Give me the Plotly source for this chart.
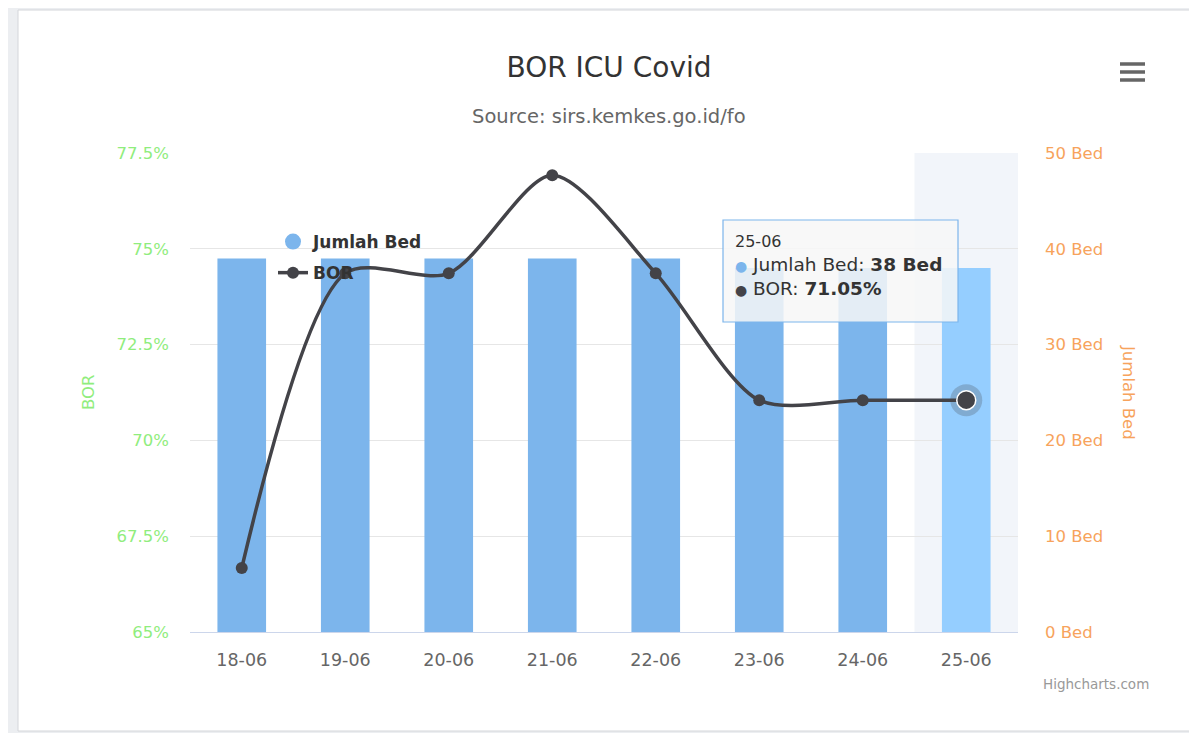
import plotly.graph_objects as go

# ---- data ----
dates = ["18-06", "19-06", "20-06", "21-06", "22-06", "23-06", "24-06", "25-06"]
beds = [39, 39, 39, 39, 39, 38, 38, 38]
bor = [66.67, 74.36, 74.36, 76.92, 74.36, 71.05, 71.05, 71.05]
bor_ticks = [65, 67.5, 70, 72.5, 75, 77.5]
bed_ticks = [0, 10, 20, 30, 40, 50]
hover_idx = 7

FONT = "DejaVu Sans"
BAR_C = "#7cb5ec"
BAR_HOVER = "#95ceff"
LINE_C = "#434348"
GREEN = "#90ed7d"
ORANGE = "#f7a35c"

OFF = 8  # default page body margin
W, H = 1197 - OFF, 733 - OFF
L, T = 190 - OFF, 153 - OFF
PW, PH = 828, 479
R, B = W - L - PW, H - T - PH


def px(xs):
    """screen x (pixels in the final page) -> paper coordinate"""
    return (xs - OFF - L) / PW


def py(ys):
    """screen y (pixels in the final page) -> paper coordinate"""
    return (T + PH - (ys - OFF)) / PH


bar_colors = [BAR_HOVER if i == hover_idx else BAR_C for i in range(len(dates))]

fig = go.Figure()

fig.add_trace(go.Bar(
    x=dates, y=beds, name="Jumlah Bed", marker=dict(color=bar_colors, line=dict(width=0)),
    width=0.47, yaxis="y", showlegend=False,
))
# legend proxy for the bar series (circle symbol like the original)
fig.add_trace(go.Scatter(
    x=[None], y=[None], mode="markers", name="Jumlah Bed", legendgroup="a",
    marker=dict(symbol="circle", size=17, color=BAR_C), yaxis="y2",
))
fig.add_trace(go.Scatter(
    x=dates, y=bor, name="BOR", mode="lines+markers", yaxis="y2", legendgroup="b",
    line=dict(color=LINE_C, width=3.5, shape="spline", smoothing=0.8),
    marker=dict(size=12, color=LINE_C),
))
# hovered point halo + marker
fig.add_trace(go.Scatter(
    x=[dates[hover_idx]], y=[bor[hover_idx]], mode="markers", yaxis="y2", showlegend=False,
    marker=dict(size=32, color="rgba(67,67,72,0.25)"),
))
fig.add_trace(go.Scatter(
    x=[dates[hover_idx]], y=[bor[hover_idx]], mode="markers", yaxis="y2", showlegend=False,
    marker=dict(size=19, color=LINE_C, line=dict(color="white", width=1.5)),
))

shapes = [
    # card
    dict(type="rect", xref="paper", yref="paper", x0=px(18), x1=px(1210), y0=py(731), y1=py(10),
         fillcolor="white", line=dict(color="#d4d6da", width=1), layer="below"),
    # hover band
    dict(type="rect", xref="x", yref="paper", x0=hover_idx - 0.5, x1=hover_idx + 0.5, y0=0, y1=1,
         fillcolor="#f2f5fa", line=dict(width=0), layer="below"),
    # tooltip box
    dict(type="rect", xref="paper", yref="paper", x0=px(723), x1=px(958), y0=py(322), y1=py(220),
         fillcolor="rgba(247,247,247,0.85)", line=dict(color=BAR_C, width=1.2), layer="above"),
]
for yy in (64, 72, 80):
    shapes.append(dict(type="line", xref="paper", yref="paper", x0=px(1120), x1=px(1145),
                       y0=py(yy), y1=py(yy), line=dict(color="#666666", width=3.5)))

tip = (
    f"<span style='font-size:16px'>{dates[hover_idx]}</span><br>"
    f"<span style='color:{BAR_C};font-size:14px'>●</span> Jumlah Bed: <b>{beds[hover_idx]} Bed</b><br>"
    f"<span style='color:{LINE_C};font-size:14px'>●</span> BOR: <b>{bor[hover_idx]:.2f}%</b>"
)

annotations = [
    dict(text="Source: sirs.kemkes.go.id/fo", xref="paper", yref="paper", x=px(609), y=py(117),
         showarrow=False, font=dict(family=FONT, size=19.5, color="#666666"), xanchor="center", yanchor="middle"),
    dict(text="BOR", xref="paper", yref="paper", x=px(88), y=py(393), textangle=-90, showarrow=False,
         font=dict(family=FONT, size=16.5, color=GREEN), xanchor="center", yanchor="middle"),
    dict(text="Jumlah Bed", xref="paper", yref="paper", x=px(1129), y=py(392), textangle=90, showarrow=False,
         font=dict(family=FONT, size=16.5, color=ORANGE), xanchor="center", yanchor="middle"),
    dict(text="Highcharts.com", xref="paper", yref="paper", x=px(1151), y=py(684), showarrow=False,
         font=dict(family=FONT, size=13.5, color="#999999"), xanchor="right", yanchor="middle"),
    dict(text=tip, xref="paper", yref="paper", x=px(734), y=py(231), xanchor="left", yanchor="top",
         showarrow=False, align="left", borderpad=0,
         font=dict(family=FONT, size=18.5, color="#333333")),
]

fig.update_layout(
    width=W, height=H,
    margin=dict(l=L, r=R, t=T, b=B),
    paper_bgcolor="#eceef1", plot_bgcolor="rgba(0,0,0,0)",
    font=dict(family=FONT, color="#333333"),
    title=dict(text="BOR ICU Covid", x=(609 - OFF) / W, xanchor="center", y=1 - (67 - OFF) / H,
               yanchor="middle", font=dict(family=FONT, size=28, color="#333333")),
    hovermode=False,
    showlegend=True,
    legend=dict(x=px(273), y=py(224), xanchor="left", yanchor="top", bgcolor="rgba(0,0,0,0)",
                font=dict(family=FONT, size=17, color="#333333", weight="bold"), traceorder="grouped",
                itemsizing="trace", tracegroupgap=6),
    xaxis=dict(type="category", range=[-0.5, len(dates) - 0.5], showgrid=False, showline=True,
               linecolor="#ccd6eb", linewidth=1, ticks="", ticklabelstandoff=12,
               tickfont=dict(family=FONT, size=17.5, color="#666666")),
    yaxis=dict(side="right", range=[bed_ticks[0], bed_ticks[-1]], tickvals=bed_ticks,
               ticktext=[f"{v} Bed" for v in bed_ticks], showgrid=True, gridcolor="#e6e6e6",
               zeroline=False, tickfont=dict(family=FONT, size=16.5, color=ORANGE), ticklabelstandoff=26),
    yaxis2=dict(side="left", overlaying="y", range=[bor_ticks[0], bor_ticks[-1]], tickvals=bor_ticks,
                ticktext=[f"{v:g}%" for v in bor_ticks], showgrid=False, zeroline=False,
                tickfont=dict(family=FONT, size=16.5, color=GREEN), ticklabelstandoff=20),
    shapes=shapes,
    annotations=annotations,
    bargap=0.5,
)

fig.write_html("out.html")
